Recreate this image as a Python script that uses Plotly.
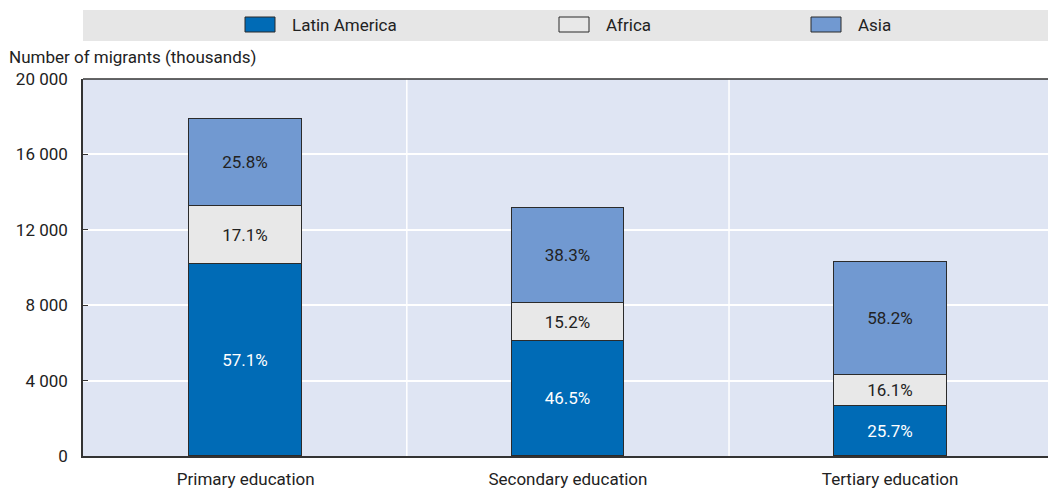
import plotly.graph_objects as go

categories = ["Primary education", "Secondary education", "Tertiary education"]
latin_america = [10190, 6100, 2650]
africa = [3070, 2020, 1650]
asia = [4620, 5040, 5990]
la_labels = ["57.1%", "46.5%", "25.7%"]
africa_labels = ["17.1%", "15.2%", "16.1%"]
asia_labels = ["25.8%", "38.3%", "58.2%"]
y_ticks = [0, 4000, 8000, 12000, 16000, 20000]

FONT = "Roboto, sans-serif"
W, H = 1048, 488
ML, MR, MT, MB = 83, 0, 79, 32
PW, PH = W - ML - MR, H - MT - MB
x = list(range(len(categories)))

def px_x(p):
    return (p - ML) / PW

def px_y(p):
    return (H - MB - p) / PH

fig = go.Figure()
series = [
    ("Latin America", latin_america, la_labels, "#006BB6", "white"),
    ("Africa", africa, africa_labels, "#E8E8E8", "#222222"),
    ("Asia", asia, asia_labels, "#7199D1", "#222222"),
]
for name, vals, labels, color, tcolor in series:
    fig.add_trace(go.Bar(
        x=x, y=vals, name=name, width=0.35,
        marker=dict(color=color, line=dict(color="#2b2b2b", width=1)),
        text=labels, textposition="inside", insidetextanchor="middle",
        textfont=dict(color=tcolor, size=17, family=FONT),
        hoverinfo="skip", showlegend=False,
    ))

# vertical separators between categories
for xv in [0.5, 1.5]:
    fig.add_shape(type="line", xref="x", yref="paper", x0=xv, x1=xv, y0=0, y1=1,
                  line=dict(color="white", width=1.5), layer="below")
# legend band
fig.add_shape(type="rect", xref="paper", yref="paper", x0=0, x1=1.0,
              y0=px_y(41), y1=px_y(10),
              fillcolor="#E6E6E6", line=dict(width=0), layer="below")
# custom legend entries
legend_x = [245, 559, 811]
for (name, _, _, color, _), lx in zip(series, legend_x):
    fig.add_shape(type="rect", xref="paper", yref="paper",
                  x0=px_x(lx), x1=px_x(lx + 30), y0=px_y(32), y1=px_y(17),
                  fillcolor=color, line=dict(color="#2b2b2b", width=1))
    fig.add_annotation(text=name, xref="paper", yref="paper",
                       x=px_x(lx + 45), y=px_y(25), xanchor="left", yanchor="middle",
                       showarrow=False, font=dict(size=17, family=FONT, color="#222222"))
# top border line
fig.add_shape(type="line", xref="paper", yref="paper", x0=0, x1=1, y0=1, y1=1,
              line=dict(color="#333333", width=1.5))

fig.add_annotation(text="Number of migrants (thousands)", xref="paper", yref="paper",
                   x=px_x(7), y=px_y(57), xanchor="left", yanchor="middle",
                   showarrow=False, font=dict(size=17, family=FONT, color="#222222"))

fig.update_layout(
    width=W, height=H,
    margin=dict(l=ML, r=MR, t=MT, b=MB),
    barmode="stack",
    bargap=0,
    plot_bgcolor="#DFE5F3",
    paper_bgcolor="white",
    separators=". ",
    font=dict(family=FONT, size=17, color="#222222"),
    showlegend=False,
    xaxis=dict(range=[-0.505, 2.49], tickmode="array", tickvals=x, ticktext=categories,
               showgrid=False, showline=True, linecolor="#333333", linewidth=1.5,
               ticks="", ticklabelstandoff=7,
               tickfont=dict(size=17, family=FONT, color="#222222"), fixedrange=True),
    yaxis=dict(range=[0, 20000], tickmode="array", tickvals=y_ticks, tickformat=",d",
               showgrid=True, gridcolor="white", gridwidth=1.5, zeroline=False,
               showline=True, linecolor="#333333", linewidth=1.5,
               ticks="inside", ticklen=5, tickcolor="#333333", ticklabelstandoff=10,
               tickfont=dict(size=17, family=FONT, color="#222222"), fixedrange=True),
)

fig.write_html("out.html", config={"displayModeBar": False},
               post_script="document.body.style.margin='0';document.body.style.overflow='hidden';")
